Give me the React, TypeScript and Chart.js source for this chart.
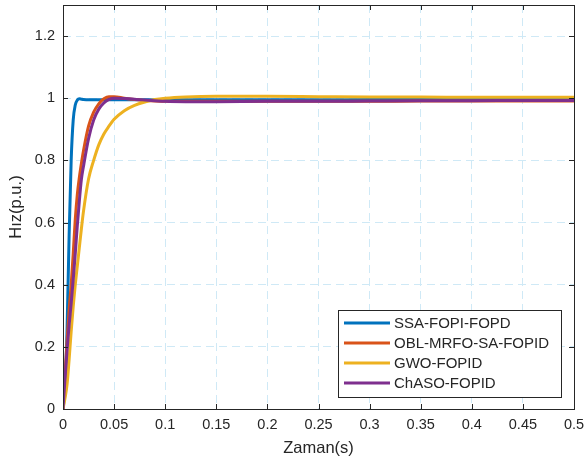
import React, { useEffect, useRef } from "react";
import { Chart, registerables } from "chart.js";

Chart.register(...registerables);

const timeS = [0, 0.002, 0.004, 0.006, 0.008, 0.01, 0.012, 0.014, 0.016, 0.018, 0.02, 0.025, 0.03, 0.035, 0.04, 0.045, 0.05, 0.06, 0.07, 0.08, 0.09, 0.1, 0.12, 0.15, 0.2, 0.25, 0.3, 0.35, 0.4, 0.45, 0.5];

const ssaFopiFopd = [0, 0.07, 0.26, 0.56, 0.8, 0.93, 0.978, 0.994, 0.998, 0.997, 0.996, 0.995, 0.995, 0.995, 0.995, 0.995, 0.995, 0.995, 0.995, 0.995, 0.995, 0.995, 0.995, 0.995, 0.995, 0.995, 0.996, 0.996, 0.996, 0.996, 0.996];
const oblMrfoSaFopid = [0, 0.11, 0.22, 0.32, 0.4, 0.5, 0.61, 0.69, 0.745, 0.79, 0.83, 0.91, 0.955, 0.982, 0.998, 1.005, 1.005, 1.0, 0.996, 0.993, 0.991, 0.99, 0.99, 0.99, 0.99, 0.99, 0.99, 0.991, 0.991, 0.991, 0.991];
const gwoFopid = [0, 0.035, 0.08, 0.16, 0.25, 0.33, 0.4, 0.46, 0.52, 0.58, 0.635, 0.74, 0.8, 0.85, 0.885, 0.91, 0.932, 0.96, 0.977, 0.988, 0.996, 1.0, 1.004, 1.006, 1.006, 1.005, 1.004, 1.004, 1.003, 1.003, 1.003];
const chasoFopid = [0, 0.1, 0.19, 0.27, 0.34, 0.416, 0.5, 0.59, 0.67, 0.739, 0.78, 0.87, 0.93, 0.965, 0.985, 0.996, 1.0, 0.999, 0.997, 0.994, 0.992, 0.99, 0.989, 0.989, 0.99, 0.99, 0.991, 0.992, 0.992, 0.993, 0.993];

const seriesNames = ["SSA-FOPI-FOPD", "OBL-MRFO-SA-FOPID", "GWO-FOPID", "ChASO-FOPID"];
const seriesColors = ["#0072BD", "#D95319", "#EDB120", "#7E2F8E"];

const xTicks = [0, 0.05, 0.1, 0.15, 0.2, 0.25, 0.3, 0.35, 0.4, 0.45, 0.5];
const xTickLabels = ["0", "0.05", "0.1", "0.15", "0.2", "0.25", "0.3", "0.35", "0.4", "0.45", "0.5"];
const yTicks = [0, 0.2, 0.4, 0.6, 0.8, 1, 1.2];
const yTickLabels = ["0", "0.2", "0.4", "0.6", "0.8", "1", "1.2"];

const FONT = "'Liberation Sans', Arial, Helvetica, sans-serif";
const TEXT = "#262626";

const boxAndTicks = {
  id: "boxAndTicks",
  afterDatasetsDraw(chart: any) {
    const { ctx, chartArea: a, scales } = chart;
    ctx.save();
    ctx.strokeStyle = TEXT;
    ctx.lineWidth = 1;
    ctx.setLineDash([]);
    ctx.beginPath();
    const len = 5;
    xTicks.forEach((v) => {
      const px = Math.round(scales.x.getPixelForValue(v)) + 0.5;
      ctx.moveTo(px, a.bottom);
      ctx.lineTo(px, a.bottom - len);
      ctx.moveTo(px, a.top);
      ctx.lineTo(px, a.top + len);
    });
    yTicks.forEach((v) => {
      const py = Math.round(scales.y.getPixelForValue(v)) + 0.5;
      ctx.moveTo(a.left, py);
      ctx.lineTo(a.left + len, py);
      ctx.moveTo(a.right, py);
      ctx.lineTo(a.right - len, py);
    });
    ctx.stroke();
    ctx.strokeRect(Math.round(a.left) + 0.5, Math.round(a.top) + 0.5, Math.round(a.right - a.left), Math.round(a.bottom - a.top));
    ctx.restore();
  },
  afterDraw(chart: any) {
    const { ctx } = chart;
    const x0 = 338, y0 = 310, w = 223, h = 87;
    ctx.save();
    ctx.fillStyle = "#ffffff";
    ctx.fillRect(x0, y0, w, h);
    ctx.strokeStyle = TEXT;
    ctx.lineWidth = 1;
    ctx.strokeRect(x0 + 0.5, y0 + 0.5, w, h);
    ctx.font = `15px ${FONT}`;
    ctx.textBaseline = "middle";
    ctx.fillStyle = TEXT;
    chart.data.datasets.forEach((ds: any, i: number) => {
      const yy = y0 + 13 + i * 20;
      ctx.strokeStyle = ds.borderColor;
      ctx.lineWidth = 3;
      ctx.beginPath();
      ctx.moveTo(344, yy);
      ctx.lineTo(390, yy);
      ctx.stroke();
      ctx.fillText(ds.label, 394, yy + 1);
    });
    ctx.restore();
  },
};

const zeroPad = (s: any) => {
  s.paddingLeft = 0;
  s.paddingRight = 0;
  s.paddingTop = 0;
  s.paddingBottom = 0;
};

export default function App() {
  const ref = useRef<HTMLCanvasElement>(null);
  useEffect(() => {
    const seriesValues = [ssaFopiFopd, oblMrfoSaFopid, gwoFopid, chasoFopid];
    const datasets = seriesValues.map((vals, i) => ({
      label: seriesNames[i],
      data: timeS.map((t, j) => ({ x: t, y: vals[j] })),
      borderColor: seriesColors[i],
      backgroundColor: seriesColors[i],
      borderWidth: 3,
      pointRadius: 0,
      cubicInterpolationMode: "monotone" as const,
      fill: false,
      order: 3 - i,
    }));
    const chart = new Chart(ref.current!, {
      type: "line",
      data: { datasets },
      plugins: [boxAndTicks],
      options: {
        animation: false,
        responsive: false,
        maintainAspectRatio: false,
        layout: { padding: { top: 5, right: 10, left: 0, bottom: 0 } },
        plugins: { legend: { display: false }, tooltip: { enabled: false } },
        scales: {
          x: {
            type: "linear",
            min: 0,
            max: 0.5,
            afterBuildTicks: (s: any) => {
              s.ticks = xTicks.map((v) => ({ value: v }));
            },
            afterFit: (s: any) => {
              s.height = 52;
              zeroPad(s);
            },
            ticks: {
              color: TEXT,
              font: { family: FONT, size: 14.5 },
              padding: 7,
              maxRotation: 0,
              autoSkip: false,
              callback: (_v: any, i: number) => xTickLabels[i],
            },
            grid: { color: "#cfe9f6", lineWidth: 1, drawTicks: false },
            border: { display: false, dash: [8, 5] },
            title: {
              display: true,
              text: "Zaman(s)",
              color: TEXT,
              font: { family: FONT, size: 16.5 },
              padding: { top: 0, bottom: 3 },
            },
          },
          y: {
            type: "linear",
            min: 0,
            max: 1.3,
            afterBuildTicks: (s: any) => {
              s.ticks = yTicks.map((v) => ({ value: v }));
            },
            afterFit: (s: any) => {
              s.width = 63;
              zeroPad(s);
            },
            ticks: {
              color: TEXT,
              font: { family: FONT, size: 14.5 },
              padding: 8,
              autoSkip: false,
              callback: (_v: any, i: number) => yTickLabels[i],
            },
            grid: { color: "#cfe9f6", lineWidth: 1, drawTicks: false },
            border: { display: false, dash: [8, 5] },
            title: {
              display: true,
              text: "Hız(p.u.)",
              color: TEXT,
              font: { family: FONT, size: 16.5 },
              padding: { top: 7, bottom: 0 },
            },
          },
        },
      },
    });
    return () => chart.destroy();
  }, []);
  return (
    <div style={{ position: "absolute", left: 0, top: 0, width: 584, height: 461, background: "#fff" }}>
      <canvas ref={ref} width={584} height={461} />
    </div>
  );
}
